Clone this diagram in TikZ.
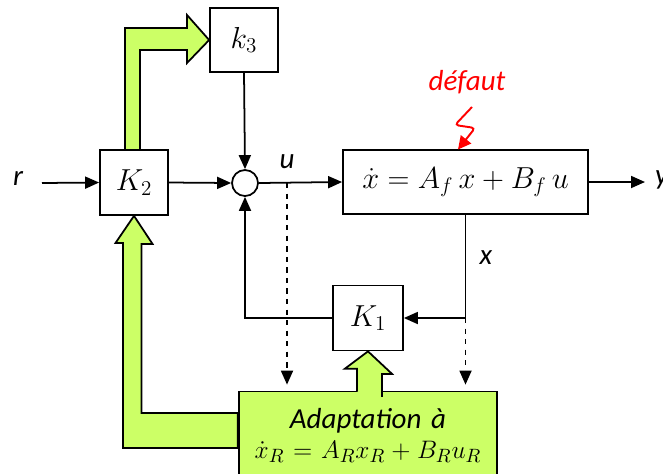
\documentclass[tikz,border=0pt]{standalone}
\usepackage{amsmath}
\usepackage[no-math]{fontspec}
\newfontfamily\lblfont{Carlito}
\usetikzlibrary{arrows.meta,calc}
\definecolor{adaptgreen}{RGB}{204,255,102}
\newcommand{\blkfont}{\fontsize{16.5}{20}\selectfont}
\tikzset{
    ctrl diagram/.style = {>={Triangle[length=2.8mm, width=2.4mm]}},
    line/.style         = {line width=1pt},
    block/.style        = {draw, line width=1pt, fill=white, font=\blkfont,
                           minimum width=1.36cm, minimum height=1.3cm},
    sum/.style          = {draw, line width=1pt, fill=white, circle,
                           minimum size=0.52cm, inner sep=0pt},
    sig/.style          = {font=\lblfont\itshape\blkfont},
    fat arrow/.style    = {draw, line width=1pt, fill=adaptgreen,
                           line join=miter},
    adaptbox/.style     = {draw, line width=1pt, fill=adaptgreen, font=\blkfont,
                           align=center, inner xsep=1pt, text width=5.1cm,
                           minimum height=1.77cm}
}

\begin{document}
\begin{tikzpicture}[ctrl diagram]
\useasboundingbox (0,0) rectangle (13.26,-9.46);
\begin{scope}
\clip (0,0) rectangle (13.26,-9.46);

% ================= Gains, summer and plant =================
\node[block] (K2) at (2.68, -3.65) {$K_2$};
\node[block, minimum height=1.28cm] (k3) at (4.88, -0.8) {$k_3$};
\node[sum] (sum) at (4.9, -3.66) {};
\node[block, minimum width=4.9cm, minimum height=1.28cm] (plant) at (9.31, -3.64)
    {$\dot{x} = A_f\,x + B_f\,u$};
\node[block, minimum width=1.4cm] (K1) at (7.36, -6.36) {$K_1$};

% ================= Adaptation block =================
\node[adaptbox] (adapt) at (7.36, -8.715)
    {{\lblfont\itshape Adaptation à}\\[-3pt]
     {\fontsize{15.8}{18}\selectfont $\dot{x}_R = A_R x_R + B_R u_R$}};

% ================= Input, output and signal labels =================
\node[sig] (r) at (0.36, -3.56) {r};
\coordinate (rin) at (0.84, -3.66);
\coordinate (yout) at (12.9, -3.64);
\node[sig, anchor=west] (y) at (12.98, -3.6) {y};
\node[sig] (u) at (5.74, -3.24) {u};
\node[sig] (x) at (9.72, -5.16) {x};
\node[sig, text=red] (defaut) at (9.34, -1.64) {défaut};

% ================= Forward path =================
\draw[->, line] (rin) -- (K2.west);
\draw[->, line] (K2.east) -- (sum.west);
\draw[->, line] (k3.south) -- (sum.north);
\draw[->, line] (sum.east) -- (plant.west);
\draw[->, line] (plant.east) -- (yout);

% ================= State feedback =================
\draw[->, line] (plant.south) |- (K1.east);
\draw[->, line] (K1.west) -| (sum.south);

% ================= Measured signals to adaptation =================
\coordinate (utap) at (5.74, -3.66);
\coordinate (xtap) at (K1.east -| plant.south);
\draw[->, line, dashed, shorten >=1.2mm] (utap) -- (utap |- adapt.north);
\draw[->, line, dashed, shorten >=1.2mm] (xtap) -- (xtap |- adapt.north);

% ================= Fault =================
\draw[red, line width=1.1pt, rounded corners=2pt,
      -{Triangle[length=2.6mm, width=2.6mm]}]
    (9.44, -2.14) -- (9.1, -2.5) -- (9.5, -2.56) -- (9.16, -2.99);

% ================= Adaptation arrows =================
\filldraw[fat arrow] ($(adapt.north)+(-0.22,-0.02)$) -- ++(0,0.46)
    -- ++(-0.24,0) -- (K1.south) -- ++(0.48,-0.45) -- ++(-0.2,0)
    -- ++(0,-0.46);
\draw[fat arrow] (K2.south) -- ++(0.37,-0.56) -- ++(-0.22,0)
    |- ($(adapt.west)+(0,0.455)$) -- ($(adapt.west)+(0,-0.245)$)
    -| (2.46, -4.86) -- (2.31, -4.86) -- cycle;
\draw[fat arrow] (2.5, -3.0) |- (3.74, -0.56) -- (3.74, -0.3)
    -- (k3.west) -- (3.74, -1.26) -- (3.74, -1.0) -| (2.8, -3.0) -- cycle;

\end{scope}
\end{tikzpicture}
\end{document}
